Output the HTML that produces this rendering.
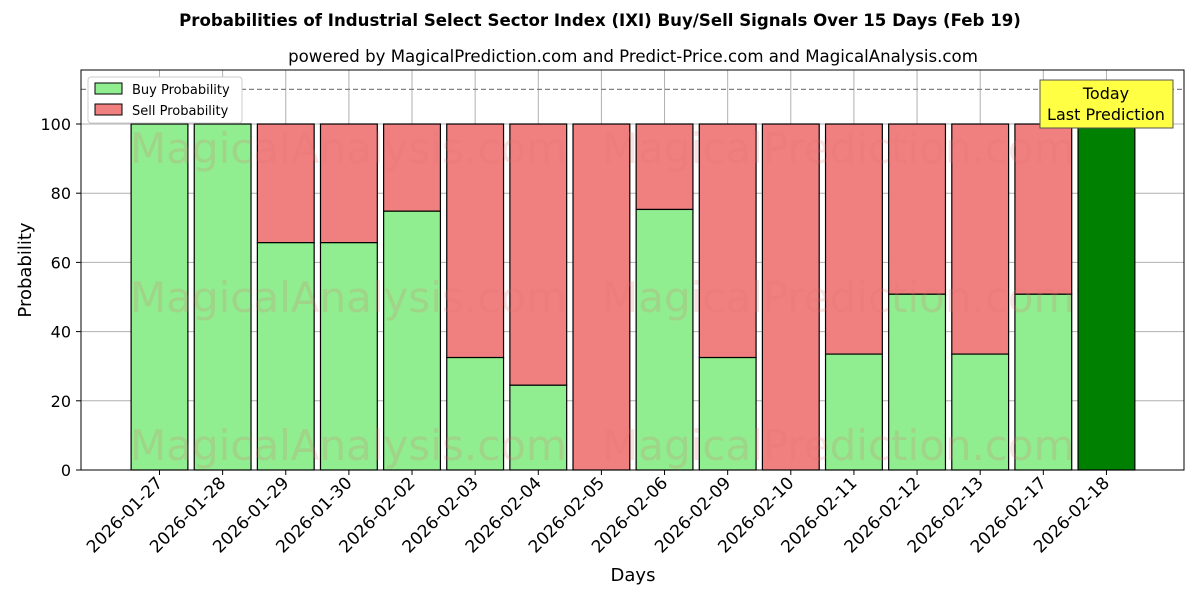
<!DOCTYPE html>
<html><head><meta charset="utf-8"><style>body{margin:0;background:#fff}svg{display:block}text{font-family:"DejaVu Sans","Liberation Sans",sans-serif}</style></head>
<body>
<svg width="1200" height="600" viewBox="0 0 1200 600" xmlns="http://www.w3.org/2000/svg">
<rect width="1200" height="600" fill="#fff"/>
<text x="600" y="26" text-anchor="middle" font-size="16.6" font-weight="bold">Probabilities of Industrial Select Sector Index (IXI) Buy/Sell Signals Over 15 Days (Feb 19)</text>
<text x="633" y="62" text-anchor="middle" font-size="16.6">powered by MagicalPrediction.com and Predict-Price.com and MagicalAnalysis.com</text>
<g id="grid" stroke="#b0b0b0" stroke-width="1"></g>
<g id="bars"></g>
<line x1="81" y1="89.4" x2="1184" y2="89.4" stroke="#808080" stroke-width="1.3" stroke-dasharray="5,3"/>
<g fill="#e07070" fill-opacity="0.2" font-size="42">
<text x="130" y="163">MagicalAnalysis.com</text><text x="602" y="163">MagicalPrediction.com</text>
<text x="130" y="312">MagicalAnalysis.com</text><text x="602" y="312">MagicalPrediction.com</text>
<text x="130" y="460">MagicalAnalysis.com</text><text x="602" y="460">MagicalPrediction.com</text>
</g>
<rect x="81" y="70" width="1103" height="400" fill="none" stroke="#000" stroke-width="1"/>
<g id="ticks" font-size="16"></g>
<text x="633" y="581" text-anchor="middle" font-size="18">Days</text>
<text transform="translate(31,270) rotate(-90)" text-anchor="middle" font-size="18">Probability</text>
<rect x="88" y="77" width="154" height="46" fill="#fff" stroke="#ccc" rx="3"/>
<rect x="95" y="83" width="27" height="11" fill="#90ee90" stroke="#000"/>
<text x="132" y="94" font-size="13">Buy Probability</text>
<rect x="95" y="104" width="27" height="11" fill="#f08080" stroke="#000"/>
<text x="132" y="115" font-size="13">Sell Probability</text>
<rect x="1040" y="80" width="133" height="48" fill="#ffff44" stroke="#555"/>
<text x="1106" y="99" text-anchor="middle" font-size="16">Today</text>
<text x="1106" y="120" text-anchor="middle" font-size="16">Last Prediction</text>
</svg>
<script>
const ns="http://www.w3.org/2000/svg";
const buy=[100,100,65.7,65.7,74.8,32.5,24.5,0,75.3,32.5,0,33.5,50.8,33.5,50.8,100];
const lab=["2026-01-27","2026-01-28","2026-01-29","2026-01-30","2026-02-02","2026-02-03","2026-02-04","2026-02-05","2026-02-06","2026-02-09","2026-02-10","2026-02-11","2026-02-12","2026-02-13","2026-02-17","2026-02-18"];
const Y=v=>470-v*3.46, X=i=>159.5+i*63.13, w=56.8;
const g=document.getElementById('grid'),b=document.getElementById('bars'),t=document.getElementById('ticks');
function el(p,n,a,txt){const e=document.createElementNS(ns,n);for(const k in a)e.setAttribute(k,a[k]);if(txt!=null)e.textContent=txt;p.appendChild(e);return e;}
for(let v=0;v<=100;v+=20){el(g,'line',{x1:81,x2:1184,y1:Y(v),y2:Y(v)});el(t,'line',{x1:76,x2:81,y1:Y(v),y2:Y(v),stroke:'#000'});el(t,'text',{x:71,y:Y(v)+6,'text-anchor':'end'},v);}
buy.forEach((v,i)=>{const x=X(i);el(g,'line',{x1:x,x2:x,y1:70,y2:470});
 if(v<100)el(b,'rect',{x:x-w/2,y:Y(100),width:w,height:Y(v)-Y(100),fill:'#f08080',stroke:'#000','stroke-width':1.2});
 if(v>0)el(b,'rect',{x:x-w/2,y:Y(v),width:w,height:470-Y(v),fill:i==15?'#008000':'#90ee90',stroke:'#000','stroke-width':1.2});
 el(t,'line',{x1:x,x2:x,y1:470,y2:475,stroke:'#000'});
 el(t,'text',{x:0,y:0,'text-anchor':'end','font-size':17,transform:`translate(${x+4},${484}) rotate(-45)`},lab[i]);});
</script>
</body></html>
